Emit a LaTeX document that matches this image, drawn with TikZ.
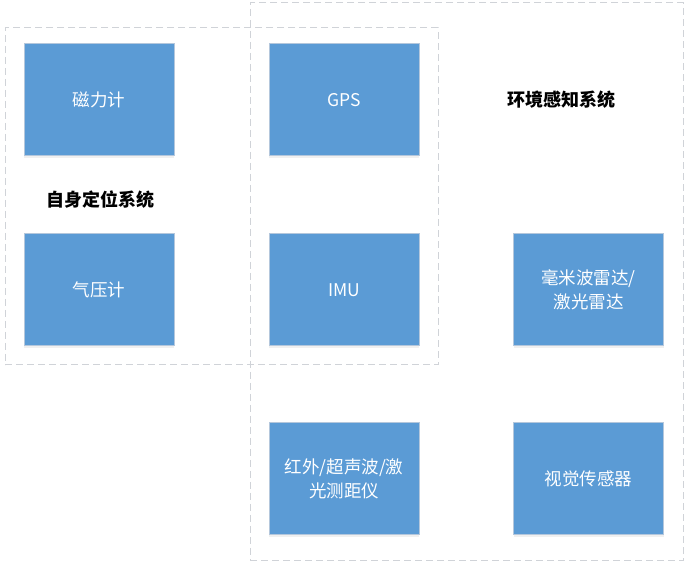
\documentclass[tikz,border=0pt]{standalone}
\usepackage{fontspec}
\setmainfont{Noto Sans CJK SC}
\usetikzlibrary{shadows}
\definecolor{sensor}{HTML}{5B9BD5}
\definecolor{sensoredge}{HTML}{B4C7DC}
\definecolor{group}{HTML}{D0D3D8}
\definecolor{ink}{HTML}{000000}
\tikzset{
  every node/.style={font=\fontsize{17.5}{24}\selectfont},
  sensorbox/.style={draw=sensoredge,line width=1pt,fill=sensor,text=white,minimum width=150pt,minimum height=112pt,align=center,inner sep=0pt,
    drop shadow={shadow xshift=0pt,shadow yshift=-2pt,opacity=0.12}},
  groupbox/.style={draw=group,dashed,dash pattern=on 7pt off 4pt,line width=1pt,inner sep=0pt},
  title/.style={font=\fontsize{18}{22}\selectfont\bfseries,text=ink},
}

\begin{document}
\begin{tikzpicture}[x=1pt,y=-1pt]
  \useasboundingbox (0,0) rectangle (689,569);
  % Groups
  \node[groupbox,minimum width=433pt,minimum height=337pt] (self) at (221.5,196.5) {};
  \node[groupbox,minimum width=433pt,minimum height=558pt] (env) at (466.5,282) {};
  \node[title] (selflabel) at (100,200) {自身定位系统};
  \node[title] (envlabel) at (561,100) {环境感知系统};

  % Sensors
  \node[sensorbox] (mag) at (99,100) {磁力计};
  \node[sensorbox] (gps) at (344,100) {GPS};
  \node[sensorbox] (baro) at (99,290) {气压计};
  \node[sensorbox] (imu) at (344,290) {IMU};
  \node[sensorbox] (radar) at (588.5,290) {毫米波雷达/\\激光雷达};
  \node[sensorbox] (range) at (344,479) {红外/超声波/激\\光测距仪};
  \node[sensorbox] (vision) at (588.5,479) {视觉传感器};
\end{tikzpicture}
\end{document}
